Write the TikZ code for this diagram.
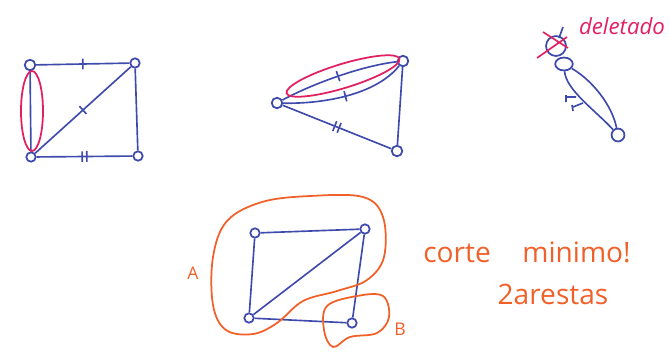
\documentclass[tikz,border=0pt]{standalone}
\usepackage{fontspec}
\setmainfont{Open Sans}
\usetikzlibrary{decorations.markings, shapes.geometric}
\definecolor{caneta}{RGB}{62,74,172}
\definecolor{rosa}{RGB}{226,32,96}
\definecolor{laranja}{RGB}{242,96,42}
\tikzset{
  vert/.style={draw=caneta, circle, line width=1.5pt, minimum size=8pt, inner sep=0pt},
  aresta/.style={draw=caneta, line width=1.4pt},
  umtraco/.style={postaction={decorate, decoration={markings,
      mark=at position 0.5 with {\draw[caneta, line width=1.4pt] (0,-4.5pt)--(0,4.5pt);}}}},
  doistracos/.style={postaction={decorate, decoration={markings,
      mark=at position 0.5 with {\draw[caneta, line width=1.4pt] (-2pt,-4.5pt)--(-2pt,4.5pt) (2pt,-4.5pt)--(2pt,4.5pt);}}}},
  corte/.style={line width=1.5pt}
}
\begin{document}
\begin{tikzpicture}[x=0.03cm, y=-0.03cm]
        \useasboundingbox (0,0) rectangle (670,351);
        % grafo original
        \node[vert, minimum size=9pt] (a1) at (30,65){}; \node[vert] (b1) at (135,63){};
        \node[vert] (c1) at (31,157){}; \node[vert] (d1) at (138,156){};
        \draw[aresta, umtraco] (a1) -- (b1);
        \draw[aresta] (a1) -- (c1);
        \draw[aresta, umtraco] (c1) -- (b1);
        \draw[aresta] (b1) -- (d1);
        \draw[aresta, doistracos] (c1) -- (d1);
        \draw[rosa, corte] (32,111) ellipse [x radius=11, y radius=40];
        % contraida
        \node[vert, minimum size=9pt] (a2) at (277,103){}; \node[vert, minimum size=9pt] (b2) at (403,61){};
        \node[vert, minimum size=9pt] (d2) at (397,151){};
        \draw[aresta, umtraco] (a2) .. controls (310,85) and (360,66) .. (b2);
        \draw[aresta, umtraco] (a2) .. controls (320,104) and (375,96) .. (b2);
        \draw[aresta] (b2) -- (d2);
        \draw[aresta, doistracos] (a2) -- (d2);
        \draw[rosa, corte, rotate around={17:(343,76)}] (343,76) ellipse [x radius=59, y radius=12];
        % deletado
        \node[vert, minimum size=17pt] (x3) at (556,46){};
        \node[vert, ellipse, minimum width=15pt, minimum height=11pt] (a3) at (564,64){};
        \node[vert, minimum size=11pt] (d3) at (618,135){};
        \draw[aresta] (a3) .. controls (566,90) and (595,110) .. (d3);
        \draw[aresta] (a3) .. controls (592,80) and (612,105) .. (d3);
        \draw[caneta, line width=1.4pt] (563,27) -- (559,38);
        \draw[caneta, line width=1.4pt] (566,95) -- (566,102) (566,97) -- (576,97)
          (572,105) -- (573,111) (573,107) -- (583,103);
        \draw[rosa, line width=1.4pt] (543,32) -- (568,48) (537,58) -- (567,37);
        \node[rosa, font=\fontsize{19}{22}\selectfont\itshape] (del) at (622,26){deletado};
        % corte minimo
        \node[vert] (a4) at (255,233){}; \node[vert] (b4) at (365,229){};
        \node[vert] (c4) at (249,318){}; \node[vert] (d4) at (352,323){};
        \draw[aresta] (a4) -- (b4);
        \draw[aresta] (a4) -- (c4);
        \draw[aresta] (c4) -- (b4);
        \draw[aresta] (b4) -- (d4);
        \draw[aresta] (c4) -- (d4);
        \draw[laranja, corte] plot[smooth cycle, tension=0.6] coordinates {(227,221) (262,202) (310,196) (363,197)
          (383,217) (384,257) (367,280) (337,291) (303,301) (277,323) (253,334) (226,330) (213,305) (213,257)};
        \draw[laranja, corte] plot[smooth cycle, tension=0.6] coordinates {(327,306) (357,296) (383,296) (389,317)
          (377,333) (350,337) (333,347) (324,330)};
        \node[laranja, font=\fontsize{15}{18}\selectfont] (ladoA) at (193,273){A};
        \node[laranja, font=\fontsize{15}{18}\selectfont] (ladoB) at (400,329){B};
        \node[laranja, font=\fontsize{24}{28}\selectfont] (msg) at (527,252){corte\hspace{27pt}minimo!};
        \node[laranja, font=\fontsize{24}{28}\selectfont] (qtd) at (553,294){2arestas};
      \end{tikzpicture}
\end{document}
